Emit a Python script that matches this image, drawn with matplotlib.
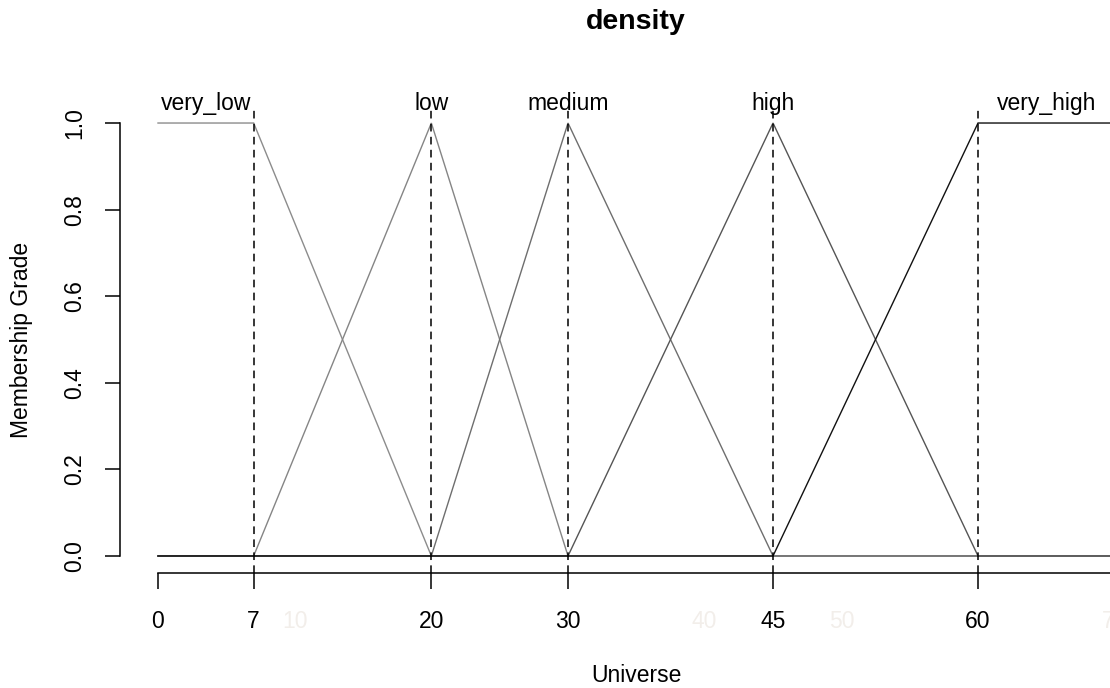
import matplotlib
matplotlib.use("Agg")
import matplotlib.pyplot as plt

plt.rcParams['font.family'] = ['Liberation Sans', 'DejaVu Sans']

# fuzzy sets of the "density" variable
set_names = ["very_low", "low", "medium", "high", "very_high"]
set_x = [
    [0, 7, 20, 70],
    [0, 7, 20, 30, 70],
    [0, 20, 30, 45, 70],
    [0, 30, 45, 60, 70],
    [0, 45, 60, 70],
]
set_y = [
    [1, 1, 0, 0],
    [0, 0, 1, 0, 0],
    [0, 0, 1, 0, 0],
    [0, 0, 1, 0, 0],
    [0, 0, 1, 1],
]
set_colors = ["#8c8c8c", "#858585", "#6e6e6e", "#555555", "#111111"]
label_x = [3.5, 20, 30, 45, 65]   # centre of each core
peak_x = [7, 20, 30, 45, 60]      # dashed guide lines / axis ticks
faint_ticks = [10, 40, 50, 70]    # default ticks, almost invisible
y_ticks = [0.0, 0.2, 0.4, 0.6, 0.8, 1.0]

W, H = 1110, 688
fig = plt.figure(figsize=(W / 100, H / 100), dpi=100)

# plot region in pixels (R style: 4% padding on both axes)
px_unit = 13.667
left_px = 158 - 2.8 * px_unit
width_px = 75.6 * px_unit
top_px, bottom_px = 105.7, 573.3
ax = fig.add_axes([left_px / W, (H - bottom_px) / H, width_px / W, (bottom_px - top_px) / H])
ax.set_xlim(-2.8, 72.8)
ax.set_ylim(-0.04, 1.04)

for xs, ys, c in zip(set_x, set_y, set_colors):
    ax.plot(xs, ys, color=c, lw=1.0, solid_joinstyle='miter')

for p in peak_x:
    ax.axvline(p, color='black', lw=1.1, linestyle=(0, (5, 3.5)))

for name, lx in zip(set_names, label_x):
    ax.text(lx, 1.0462, name, ha='center', va='center', fontsize=16.5, clip_on=False)

# R-like axes
for s in ['top', 'right']:
    ax.spines[s].set_visible(False)
ax.spines['left'].set_bounds(0, 1)
ax.spines['bottom'].set_bounds(0, 72.8)
ax.spines['left'].set_linewidth(1.1)
ax.spines['bottom'].set_linewidth(1.1)

ax.set_xticks([0] + peak_x)
ax.set_xticklabels([str(v) for v in [0] + peak_x])
ax.set_yticks(y_ticks)
ax.set_yticklabels(["%.1f" % v for v in y_ticks], rotation=90, va='center')
ax.tick_params(axis='x', length=11.5, width=1.1, pad=15, labelsize=16.5)
ax.tick_params(axis='y', length=11, width=1.1, pad=13, labelsize=16.5)

# leftover default labels, drawn nearly white
for v in faint_ticks:
    fig.text((158 + v * px_unit) / W, 1 - 621 / H, str(v), ha='center', va='center',
             fontsize=16.5, color='#f2eeea')

fig.text(636 / W, 1 - 22 / H, "density", ha='center', va='center', fontsize=20.5, fontweight='bold')
fig.text(636 / W, 1 - 675 / H, "Universe", ha='center', va='center', fontsize=16.5)
fig.text(22 / W, 1 - 340 / H, "Membership Grade", ha='center', va='center', fontsize=16.5, rotation=90)

fig.savefig("out.png", dpi=100)
